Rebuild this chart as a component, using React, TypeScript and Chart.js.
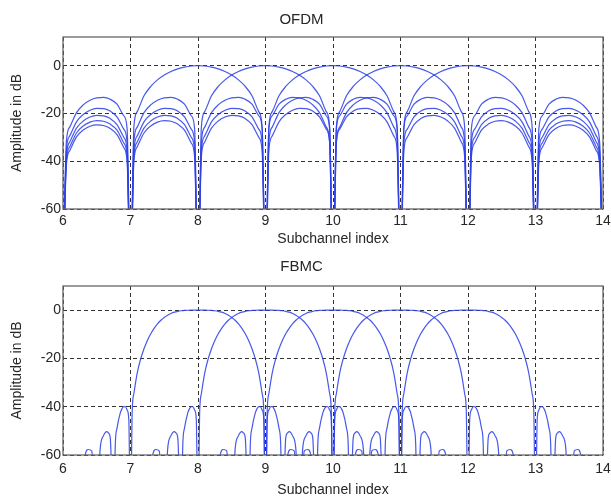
import { useEffect, useRef } from "react";
import { Chart, registerables } from "chart.js";

Chart.register(...registerables);

// ---- data ----
const SUBCHANNEL_CENTERS = [8, 9, 10, 11, 12];
const X_TICKS = [6, 7, 8, 9, 10, 11, 12, 13, 14];
const Y_TICKS = [-60, -40, -20, 0];
const Y_MIN = -60;
const OFDM_Y_MAX = 12;
const FBMC_Y_MAX = 10;

// OFDM subcarrier spectrum (dB) vs. offset from subcarrier centre (one side, symmetric)
const OFDM_OFFSETS = [
  0, 0.1, 0.2, 0.3, 0.4, 0.5, 0.6, 0.7, 0.8, 0.9, 0.95, 1.0,
  1.05, 1.1, 1.2, 1.3, 1.4, 1.5, 1.6, 1.7, 1.8, 1.9, 1.95, 2.0,
  2.05, 2.1, 2.2, 2.3, 2.4, 2.5, 2.6, 2.7, 2.8, 2.9, 2.95, 3.0,
  3.05, 3.1, 3.2, 3.3, 3.4, 3.5, 3.6, 3.7, 3.8, 3.9, 3.95, 4.0,
  4.05, 4.1, 4.2, 4.3, 4.4, 4.5, 4.6, 4.7, 4.8, 4.9, 4.95, 5.0,
  5.05, 5.1, 5.2, 5.3, 5.4, 5.5, 5.6, 5.7, 5.8, 5.9, 5.95, 6.0,
];
const OFDM_DB = [
  0, -0.14, -0.58, -1.33, -2.42, -3.92, -5.94, -8.69, -12.62, -19.23, -25.61, -90,
  -26.48, -20.97, -16.14, -14.06, -13.3, -13.46, -14.46, -16.39, -19.66, -25.72, -31.86, -90,
  -32.29, -26.59, -21.41, -19.02, -17.98, -17.9, -18.68, -20.41, -23.5, -29.39, -35.45, -90,
  -35.74, -29.97, -24.66, -22.15, -21.01, -20.82, -21.5, -23.15, -26.15, -31.96, -37.99, -90,
  -38.21, -32.4, -27.02, -24.45, -23.25, -23.01, -23.63, -25.23, -28.18, -33.95, -39.95, -90,
  -40.12, -34.29, -28.88, -26.27, -25.03, -24.75, -25.34, -26.9, -29.83, -35.56, -41.55, -90,
];

// FBMC subcarrier spectrum (dB) vs. offset from subcarrier centre (one side, symmetric)
const FBMC_OFFSETS = [
  0, 0.05, 0.1, 0.15, 0.2, 0.25, 0.3, 0.35, 0.4, 0.45, 0.5, 0.55, 0.6, 0.65, 0.7,
  0.75, 0.8, 0.85, 0.9, 0.95, 0.975, 1.0,
  1.025, 1.05, 1.075, 1.1, 1.125, 1.15, 1.2, 1.225, 1.25,
  1.3, 1.325, 1.35, 1.375, 1.4, 1.45, 1.5,
  1.575, 1.625, 1.675, 1.75, 2.0,
];
const FBMC_DB = [
  0, 0, -0.01, -0.04, -0.11, -0.25, -0.48, -0.84, -1.36, -2.08, -3.01, -4.21, -5.7, -7.55, -9.81,
  -12.57, -15.98, -20.27, -25.94, -34.54, -42.03, -90,
  -45.42, -41.36, -40.01, -39.95, -40.79, -42.43, -48.85, -55.49, -90,
  -52.79, -50.9, -50.35, -50.75, -51.98, -57.68, -90,
  -58.33, -57.73, -60.7, -90, -90,
];

// ---- styling ----
const FONT = "'Liberation Sans', Arial, Helvetica, sans-serif";
const TEXT = "#262626";
const LINE = "rgba(45, 65, 232, 0.88)";
const GRID = "#333333";

function buildSeries(offsets: number[], db: number[], center: number) {
  const lo = X_TICKS[0] - 1e-9;
  const hi = X_TICKS[X_TICKS.length - 1] + 1e-9;
  const pts: { x: number; y: number }[] = [];
  for (let i = offsets.length - 1; i > 0; i--) pts.push({ x: center - offsets[i], y: db[i] });
  for (let i = 0; i < offsets.length; i++) pts.push({ x: center + offsets[i], y: db[i] });
  return pts.filter((p) => p.x >= lo && p.x <= hi);
}

const boxPlugin = {
  id: "axesBox",
  afterDatasetsDraw(chart: any) {
    const { ctx, chartArea: a } = chart;
    ctx.save();
    ctx.strokeStyle = "#666";
    ctx.lineWidth = 1.3;
    ctx.setLineDash([]);
    ctx.strokeRect(a.left, a.top, a.right - a.left, a.bottom - a.top);
    ctx.restore();
  },
};

function makeConfig(
  title: string,
  offsets: number[],
  db: number[],
  yMax: number,
  titlePad: { top: number; bottom: number },
  xHeight: number,
  xTickPad: number,
  xTitlePadBottom: number
): any {
  const tickFont = { family: FONT, size: 14 };
  const labelFont = { family: FONT, size: 14 };
  return {
    type: "line",
    data: {
      datasets: SUBCHANNEL_CENTERS.map((c) => ({
        label: `Subchannel ${c}`,
        data: buildSeries(offsets, db, c),
        borderColor: LINE,
        borderWidth: 1.2,
        pointRadius: 0,
        fill: false,
        cubicInterpolationMode: "monotone",
      })),
    },
    options: {
      responsive: false,
      animation: false,
      events: [],
      layout: { padding: { left: 0, right: 8, top: 0, bottom: 0 } },
      plugins: {
        legend: { display: false },
        tooltip: { enabled: false },
        title: {
          display: true,
          text: title,
          color: TEXT,
          font: { family: FONT, size: 15, weight: "normal" },
          padding: titlePad,
        },
      },
      scales: {
        x: {
          type: "linear",
          min: X_TICKS[0],
          max: X_TICKS[X_TICKS.length - 1],
          afterBuildTicks: (s: any) => {
            s.ticks = X_TICKS.map((v) => ({ value: v }));
          },
          afterFit: (s: any) => {
            s.height = xHeight;
            s.paddingLeft = 0;
            s.paddingRight = 0;
          },
          grid: { color: GRID, lineWidth: 1, drawTicks: false },
          border: { display: false, dash: [4, 3] },
          ticks: {
            color: TEXT,
            font: tickFont,
            padding: xTickPad,
            maxRotation: 0,
            autoSkip: false,
            callback: (v: any) => String(v),
          },
          title: {
            display: true,
            text: "Subchannel index",
            color: TEXT,
            font: labelFont,
            padding: { top: 0, bottom: xTitlePadBottom },
          },
        },
        y: {
          type: "linear",
          min: Y_MIN,
          max: yMax,
          afterBuildTicks: (s: any) => {
            s.ticks = Y_TICKS.map((v) => ({ value: v }));
          },
          afterFit: (s: any) => {
            s.width = 63;
            s.paddingTop = 0;
            s.paddingBottom = 0;
          },
          grid: { color: GRID, lineWidth: 1, drawTicks: false },
          border: { display: false, dash: [4, 3] },
          ticks: {
            color: TEXT,
            font: tickFont,
            padding: 2,
            autoSkip: false,
            callback: (v: any) => String(v),
          },
          title: {
            display: true,
            text: "Amplitude in dB",
            color: TEXT,
            font: labelFont,
            padding: { top: 9, bottom: 0 },
          },
        },
      },
    },
    plugins: [boxPlugin],
  };
}

function SpectrumChart(props: {
  title: string;
  offsets: number[];
  db: number[];
  yMax: number;
  top: number;
  height: number;
  titlePad: { top: number; bottom: number };
  xHeight: number;
  xTickPad: number;
  xTitlePadBottom: number;
}) {
  const ref = useRef<HTMLCanvasElement | null>(null);
  useEffect(() => {
    if (!ref.current) return;
    const chart = new Chart(
      ref.current,
      makeConfig(
        props.title,
        props.offsets,
        props.db,
        props.yMax,
        props.titlePad,
        props.xHeight,
        props.xTickPad,
        props.xTitlePadBottom
      )
    );
    return () => chart.destroy();
  }, []);
  return (
    <canvas
      ref={ref}
      width={611}
      height={props.height}
      style={{ position: "absolute", left: 0, top: props.top, width: 611, height: props.height, display: "block" }}
    />
  );
}

export default function App() {
  return (
    <div
      style={{
        position: "absolute",
        left: 0,
        top: 0,
        width: 611,
        height: 497,
        overflow: "hidden",
        background: "#ffffff",
      }}
    >
      <SpectrumChart
        title="OFDM"
        offsets={OFDM_OFFSETS}
        db={OFDM_DB}
        yMax={OFDM_Y_MAX}
        top={0}
        height={248}
        titlePad={{ top: 11, bottom: 8 }}
        xHeight={39}
        xTickPad={4}
        xTitlePadBottom={0}
      />
      <SpectrumChart
        title="FBMC"
        offsets={FBMC_OFFSETS}
        db={FBMC_DB}
        yMax={FBMC_Y_MAX}
        top={248}
        height={249}
        titlePad={{ top: 10, bottom: 10 }}
        xHeight={42}
        xTickPad={6}
        xTitlePadBottom={-2}
      />
    </div>
  );
}
